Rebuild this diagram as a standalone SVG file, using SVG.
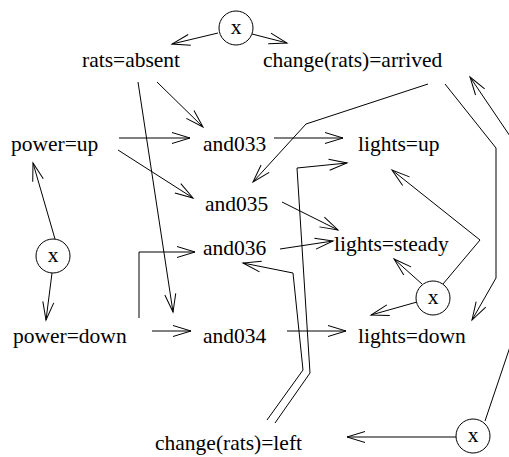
<svg xmlns="http://www.w3.org/2000/svg" width="509" height="457" viewBox="0 0 509 457">
  <style>
    text { font-family: "Liberation Serif", "Times New Roman", serif; font-size: 21.5px; fill: #000; }
    .cx { text-anchor: middle; }
    circle { fill: #fff; stroke: #000; stroke-width: 1; }
    .edge { fill: none; stroke: #000; stroke-width: 1; marker-end: url(#ah); }
  </style>
  <defs>
    <marker id="ah" markerWidth="21" markerHeight="13" refX="19" refY="6.5" orient="auto" markerUnits="userSpaceOnUse">
      <path d="M1,1 L19,6.5 L1,12" fill="none" stroke="#000" stroke-width="1"/>
    </marker>
  </defs>

  <rect width="509" height="457" fill="#fff"/>

  <!-- connectors -->
  <g id="connectors">
    <path class="edge" d="M218,33 L172,44"/>
    <path class="edge" d="M252,34 L287,43"/>
    <path class="edge" d="M157,82 L203,127"/>
    <path class="edge" d="M138,82 L173,312"/>
    <path class="edge" d="M119,138 L190,138"/>
    <path class="edge" d="M118,150 L193,198"/>
    <path class="edge" d="M274,138 L343,138"/>
    <path class="edge" d="M428,84 L306,124 L253,182"/>
    <path class="edge" d="M445,84 L496,148 L496,278 L472,320"/>
    <path class="edge" d="M485,421 L514,335 L514,142 L470,77"/>
    <path class="edge" d="M55,239 L33,163"/>
    <path class="edge" d="M52,273 L46,320"/>
    <path class="edge" d="M139,318 L139,252 L195,252"/>
    <path class="edge" d="M152,331 L191,331"/>
    <path class="edge" d="M287,331 L346,331"/>
    <path class="edge" d="M282,202 L338,230"/>
    <path class="edge" d="M280,249 L333,241"/>
    <path class="edge" d="M267,420 L303,370 L293,273 L243,263"/>
    <path class="edge" d="M275,423 L310,373 L297,168 L347,163"/>
    <path class="edge" d="M443,284 L480,240 L392,170"/>
    <path class="edge" d="M422,284 L394,259"/>
    <path class="edge" d="M417,302 L371,315"/>
    <path class="edge" d="M456,437 L347,437"/>
  </g>

  <!-- exclusive-choice nodes -->
  <g id="x_rats"><circle cx="236" cy="28" r="17"/><text class="cx" x="236" y="34">x</text></g>
  <g id="x_power"><circle cx="53" cy="256" r="17"/><text class="cx" x="53" y="262">x</text></g>
  <g id="x_lights"><circle cx="433" cy="298" r="17"/><text class="cx" x="433" y="304">x</text></g>
  <g id="x_change"><circle cx="473" cy="436" r="17"/><text class="cx" x="473" y="442">x</text></g>

  <!-- state nodes -->
  <g id="rats_absent"><text x="82" y="67">rats=absent</text></g>
  <g id="change_rats_arrived"><text x="263" y="67">change(rats)=arrived</text></g>
  <g id="power_up"><text x="11" y="151">power=up</text></g>
  <g id="and033"><text x="203" y="151">and033</text></g>
  <g id="lights_up"><text x="358" y="151">lights=up</text></g>
  <g id="and035"><text x="205" y="211">and035</text></g>
  <g id="and036"><text x="203" y="255">and036</text></g>
  <g id="lights_steady"><text x="334" y="251">lights=steady</text></g>
  <g id="power_down"><text x="13" y="343">power=down</text></g>
  <g id="and034"><text x="203" y="343">and034</text></g>
  <g id="lights_down"><text x="358" y="343">lights=down</text></g>
  <g id="change_rats_left"><text x="155" y="450">change(rats)=left</text></g>
</svg>
